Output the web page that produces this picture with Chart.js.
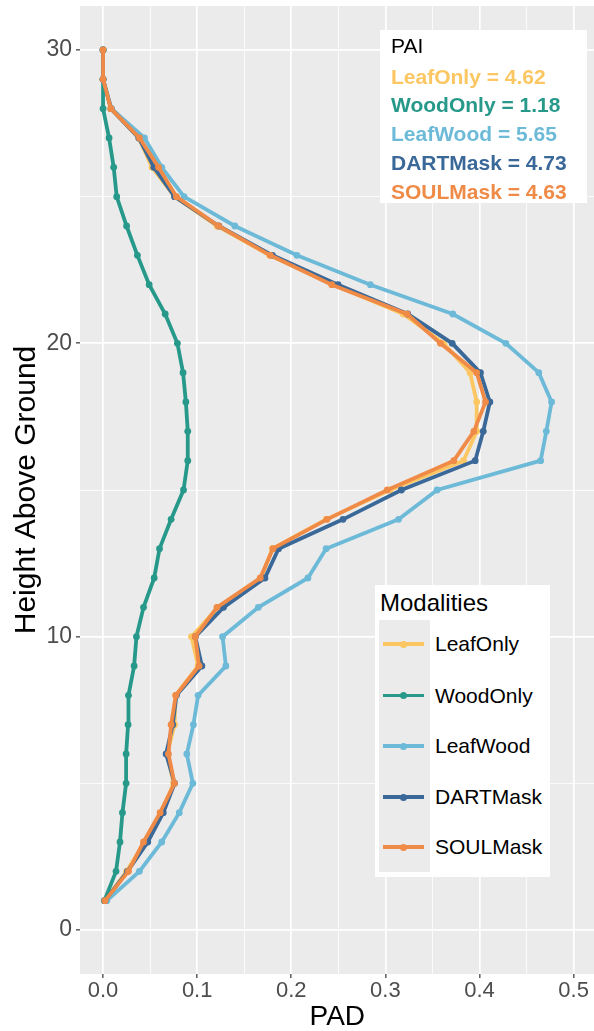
<!DOCTYPE html>
<html>
<head>
<meta charset="utf-8">
<script src="https://cdn.jsdelivr.net/npm/chart.js@4/dist/chart.umd.min.js"></script>
<style>
  html, body { margin: 0; padding: 0; background: #ffffff; overflow: hidden; }
  #wrap { position: relative; width: 594px; height: 1031px; overflow: hidden; font-family: "Liberation Sans", Arial, sans-serif; }
  canvas { position: absolute; left: 0; top: 0; }
  .box { position: absolute; background: #ffffff; }
  .pai-line { position: absolute; left: 11px; height: 29px; line-height: 29px; font-size: 21px; font-weight: bold; white-space: nowrap; }
  .key-bg { position: absolute; background: #EBEBEB; }
  .key-line { position: absolute; height: 3.5px; }
  .key-dot { position: absolute; width: 7px; height: 7px; border-radius: 50%; }
  .key-label { position: absolute; font-size: 21px; color: #000; white-space: nowrap; height: 26px; line-height: 26px; }
</style>
</head>
<body>
<div id="wrap">
  <canvas id="c" width="598" height="1031"></canvas>
  <div class="box" id="paiBox" style="left:380px;top:30px;width:207px;height:173px;"></div>
  <div class="box" id="legBox" style="left:375px;top:585px;width:175px;height:292px;"></div>
</div>
<script>
// ---- data ----
const heights = [1, 2, 3, 4, 5, 6, 7, 8, 9, 10, 11, 12, 13, 14, 15, 16, 17, 18, 19, 20, 21, 22, 23, 24, 25, 26, 27, 28, 29, 30];
const leafOnly = [0.002, 0.025, 0.044, 0.062, 0.075, 0.068, 0.076, 0.077, 0.101, 0.094, 0.122, 0.168, 0.180, 0.237, 0.305, 0.383, 0.397, 0.397, 0.390, 0.362, 0.319, 0.245, 0.177, 0.121, 0.076, 0.052, 0.038, 0.008, 0.0, 0.0];
const woodOnly = [0.0014, 0.0138, 0.018, 0.0206, 0.0245, 0.0245, 0.0266, 0.027, 0.033, 0.0355, 0.043, 0.0543, 0.060, 0.0723, 0.0855, 0.090, 0.090, 0.088, 0.085, 0.079, 0.066, 0.049, 0.0365, 0.025, 0.0145, 0.0113, 0.0064, 0.0, 0.0, 0.0];
const leafWood = [0.004, 0.0386, 0.0624, 0.081, 0.0954, 0.089, 0.096, 0.101, 0.1305, 0.127, 0.165, 0.2177, 0.237, 0.314, 0.355, 0.465, 0.471, 0.4766, 0.463, 0.428, 0.3716, 0.284, 0.206, 0.140, 0.086, 0.0624, 0.044, 0.009, 0.0, 0.0];
const dartMask = [0.002, 0.026, 0.0475, 0.064, 0.076, 0.067, 0.074, 0.078, 0.105, 0.098, 0.128, 0.172, 0.1865, 0.255, 0.317, 0.3954, 0.404, 0.411, 0.401, 0.371, 0.3237, 0.2497, 0.180, 0.123, 0.076, 0.054, 0.038, 0.0085, 0.0, 0.0];
const soulMask = [0.002, 0.027, 0.043, 0.0606, 0.0759, 0.0695, 0.0723, 0.0773, 0.102, 0.0979, 0.121, 0.167, 0.1805, 0.238, 0.302, 0.3727, 0.394, 0.4064, 0.397, 0.3585, 0.323, 0.243, 0.1777, 0.1227, 0.078, 0.059, 0.0387, 0.0085, 0.0, 0.0];
const seriesNames = ["LeafOnly", "WoodOnly", "LeafWood", "DARTMask", "SOULMask"];
const paiValues = [4.62, 1.18, 5.65, 4.73, 4.63];
const xTickValues = [0, 0.05, 0.1, 0.15, 0.2, 0.25, 0.3, 0.35, 0.4, 0.45, 0.5];
const yTickValues = [0, 5, 10, 15, 20, 25, 30];
const xMajorLabels = ["0.0", "0.1", "0.2", "0.3", "0.4", "0.5"];
const yMajorLabels = ["0", "10", "20", "30"];

// ---- styling ----
const colors = ["#FCC762", "#27998A", "#6DBAD8", "#3A6898", "#EF8A47"];
const seriesValues = [leafOnly, woodOnly, leafWood, dartMask, soulMask];

const datasets = seriesNames.map((name, i) => ({
  label: name,
  data: heights.map((h, j) => ({ x: seriesValues[i][j], y: h })),
  borderColor: colors[i],
  backgroundColor: colors[i],
  borderWidth: 3.8,
  pointRadius: 3.4,
  pointHoverRadius: 3.4,
  pointBorderWidth: 0,
  showLine: true,
  tension: 0,
  order: seriesNames.length - i
}));

const panelBg = {
  id: 'panelBg',
  beforeDraw(chart) {
    const { ctx, chartArea: a } = chart;
    ctx.save();
    ctx.fillStyle = '#EBEBEB';
    ctx.fillRect(a.left, a.top, a.right - a.left, a.bottom - a.top);
    ctx.restore();
  }
};

function isMajor(v, step) {
  return Math.abs(v / step - Math.round(v / step)) < 1e-6;
}

new Chart(document.getElementById('c'), {
  type: 'scatter',
  data: { datasets },
  plugins: [panelBg],
  options: {
    responsive: false,
    animation: false,
    events: [],
    layout: { padding: { top: 6, right: 0, left: 0, bottom: 0 } },
    plugins: { legend: { display: false }, tooltip: { enabled: false } },
    scales: {
      x: {
        type: 'linear',
        min: -0.0245,
        max: 0.5223,
        afterBuildTicks: s => { s.ticks = xTickValues.map(v => ({ value: v })); },
        afterFit: s => { s.height = 57; s.paddingLeft = 0; s.paddingRight = 0; },
        border: { display: false },
        grid: {
          color: '#FFFFFF',
          lineWidth: c => (c.tick && isMajor(c.tick.value, 0.1)) ? 1.7 : 0.8,
          drawTicks: true,
          tickLength: 4,
          tickColor: c => (c.tick && isMajor(c.tick.value, 0.1)) ? '#333333' : 'rgba(0,0,0,0)',
          tickWidth: 1.2
        },
        ticks: {
          autoSkip: false,
          maxRotation: 0,
          padding: 0,
          color: '#4D4D4D',
          font: { family: '"Liberation Sans", Arial, sans-serif', size: 22 },
          callback: (v) => {
            if (!isMajor(v, 0.1)) return '';
            const idx = Math.round(v / 0.1);
            return xMajorLabels[idx] !== undefined ? xMajorLabels[idx] : '';
          }
        },
        title: {
          display: true,
          text: 'PAD',
          color: '#000000',
          font: { family: '"Liberation Sans", Arial, sans-serif', size: 28, lineHeight: 1 },
          padding: { top: 0, bottom: 0 }
        }
      },
      y: {
        type: 'linear',
        min: -1.5,
        max: 31.5,
        afterBuildTicks: s => { s.ticks = yTickValues.map(v => ({ value: v })); },
        afterFit: s => { s.width = 80; s.paddingTop = 0; s.paddingBottom = 0; },
        border: { display: false },
        grid: {
          color: '#FFFFFF',
          lineWidth: c => (c.tick && isMajor(c.tick.value, 10)) ? 1.7 : 0.8,
          drawTicks: true,
          tickLength: 4,
          tickColor: c => (c.tick && isMajor(c.tick.value, 10)) ? '#333333' : 'rgba(0,0,0,0)',
          tickWidth: 1.2
        },
        ticks: {
          autoSkip: false,
          padding: 4,
          color: '#4D4D4D',
          font: { family: '"Liberation Sans", Arial, sans-serif', size: 23 },
          callback: (v) => {
            if (!isMajor(v, 10)) return '';
            const idx = Math.round(v / 10);
            return yMajorLabels[idx] !== undefined ? yMajorLabels[idx] : '';
          }
        },
        title: {
          display: true,
          text: 'Height Above Ground',
          color: '#000000',
          font: { family: '"Liberation Sans", Arial, sans-serif', size: 30, lineHeight: 1 },
          padding: { top: 12, bottom: 0 }
        }
      }
    }
  }
});

// ---- PAI annotation box ----
const paiBox = document.getElementById('paiBox');
const paiTitle = document.createElement('div');
paiTitle.className = 'pai-line';
paiTitle.style.fontWeight = 'normal';
paiTitle.style.color = '#000';
paiTitle.style.top = (45 - 30 - 14.5) + 'px';
paiTitle.textContent = 'PAI';
paiBox.appendChild(paiTitle);
const paiCenters = [76, 104.5, 133, 162, 191];
seriesNames.forEach((n, i) => {
  const d = document.createElement('div');
  d.className = 'pai-line';
  d.style.color = colors[i];
  d.style.top = (paiCenters[i] - 30 - 14.5) + 'px';
  d.textContent = n + ' = ' + paiValues[i].toFixed(2);
  paiBox.appendChild(d);
});

// ---- Modalities legend ----
const legBox = document.getElementById('legBox');
const lt = document.createElement('div');
lt.style.cssText = 'position:absolute;left:5px;top:' + (603 - 585 - 14) + 'px;height:28px;line-height:28px;font-size:24px;color:#000;white-space:nowrap;';
lt.textContent = 'Modalities';
legBox.appendChild(lt);
const kb = document.createElement('div');
kb.className = 'key-bg';
kb.style.cssText += 'left:4px;top:35px;width:51px;height:252px;';
legBox.appendChild(kb);
const keyCenters = [644, 695.5, 746, 797, 847];
seriesNames.forEach((n, i) => {
  const cy = keyCenters[i] - 585;
  const ln = document.createElement('div');
  ln.className = 'key-line';
  ln.style.cssText += 'left:8px;width:41px;top:' + (cy - 1.75) + 'px;background:' + colors[i] + ';';
  legBox.appendChild(ln);
  const dot = document.createElement('div');
  dot.className = 'key-dot';
  dot.style.cssText += 'left:' + (28.5 - 3.5) + 'px;top:' + (cy - 3.5) + 'px;background:' + colors[i] + ';';
  legBox.appendChild(dot);
  const lb = document.createElement('div');
  lb.className = 'key-label';
  lb.style.cssText += 'left:60px;top:' + (cy - 13) + 'px;';
  lb.textContent = n;
  legBox.appendChild(lb);
});
</script>
</body>
</html>
